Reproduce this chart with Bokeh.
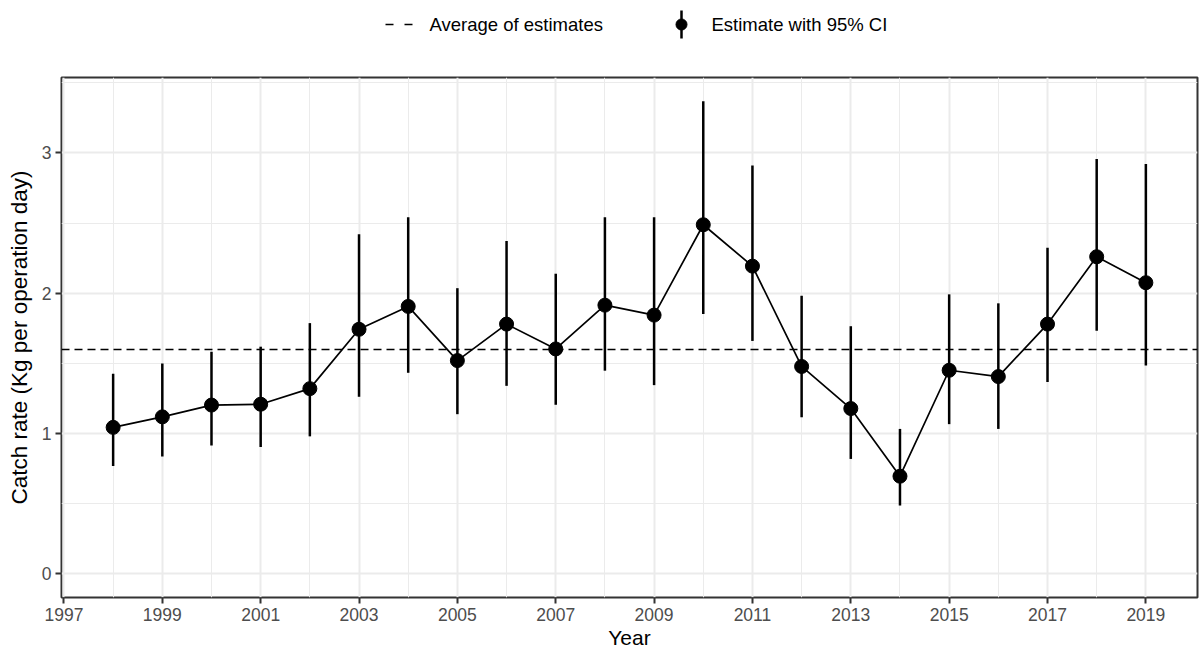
import numpy as np
from bokeh.plotting import figure
from bokeh.layouts import column
from bokeh.models import ColumnDataSource, Range1d, FixedTicker
from bokeh.core.properties import value
from bokeh.embed import file_html
from bokeh.resources import INLINE

# ---- data ----
years = list(range(1998, 2020))
estimate = [1.044, 1.119, 1.203, 1.209, 1.320, 1.743, 1.906, 1.520, 1.780, 1.603, 1.915,
            1.844, 2.488, 2.193, 1.478, 1.178, 0.696, 1.451, 1.406, 1.780, 2.260, 2.075]
lower = [0.769, 0.836, 0.914, 0.904, 0.980, 1.262, 1.433, 1.138, 1.340, 1.205, 1.448,
         1.345, 1.852, 1.660, 1.116, 0.819, 0.487, 1.067, 1.033, 1.367, 1.733, 1.485]
upper = [1.427, 1.500, 1.583, 1.619, 1.787, 2.421, 2.542, 2.036, 2.373, 2.139, 2.542,
         2.542, 3.369, 2.911, 1.982, 1.765, 1.033, 1.992, 1.928, 2.324, 2.956, 2.921]
x_ticks = [1997, 1999, 2001, 2003, 2005, 2007, 2009, 2011, 2013, 2015, 2017, 2019]
x_minor = [1998, 2000, 2002, 2004, 2006, 2008, 2010, 2012, 2014, 2016, 2018]
y_ticks = [0, 1, 2, 3]
y_minor = [0.5, 1.5, 2.5, 3.5]
legend_labels = ["Average of estimates", "Estimate with 95% CI"]
x_title = "Year"
y_title = "Catch rate (Kg per operation day)"

average = float(np.mean(estimate))

FONT = "Liberation Sans"
W = 1200
LEG_H = 72
MAIN_H = 651 - LEG_H
BL, BR = 61, 3   # left / right borders of the plotting frame (pixels)

# ---------------- legend strip (drawn in page-pixel units) ----------------
leg = figure(width=W, height=LEG_H, output_backend="svg", toolbar_location=None,
             x_range=Range1d(BL, W - BR), y_range=Range1d(0, LEG_H),
             min_border=0, min_border_left=BL, min_border_right=BR,
             min_border_top=0, min_border_bottom=0)
leg.axis.visible = False
leg.grid.visible = False
leg.outline_line_color = None
leg.background_fill_color = "white"
leg.border_fill_color = "white"

key_y = LEG_H - 24           # vertical centre of the legend row
key1 = dict(x0=385, x1=412)  # dashed key
key2_x = 681                 # point-range key
label_x = [429, 711]

leg.segment(x0=[key1["x0"]], y0=[key_y], x1=[key1["x1"]], y1=[key_y],
            line_color="black", line_width=1.7, line_dash="8 11")
leg.segment(x0=[key2_x], y0=[key_y - 14], x1=[key2_x], y1=[key_y + 14],
            line_color="black", line_width=2.5)
leg.scatter(x=[key2_x], y=[key_y], size=11, fill_color="black", line_color="black")
leg.text(x=label_x, y=[key_y, key_y], text=legend_labels,
         text_font=value(FONT), text_font_size="18.5px", text_color="black",
         text_baseline="middle", text_align="left")

# ---------------- main plot ----------------
src = ColumnDataSource(dict(year=years, est=estimate, lower=lower, upper=upper))

x_lo, x_hi = min(years), max(years)
xpad = 0.05 * (x_hi - x_lo)
y_lo, y_hi = 0.0, max(upper)
ypad = 0.05 * (y_hi - y_lo)

p = figure(width=W, height=MAIN_H, output_backend="svg", toolbar_location=None,
           x_range=Range1d(x_lo - xpad, x_hi + xpad),
           y_range=Range1d(y_lo - ypad, y_hi + ypad),
           min_border_left=BL, min_border_right=BR, min_border_top=5, min_border_bottom=54)

p.outline_line_color = "#333333"
p.outline_line_width = 2
p.background_fill_color = "white"
p.border_fill_color = "white"

p.xaxis.ticker = FixedTicker(ticks=x_ticks, minor_ticks=x_minor)
p.yaxis.ticker = FixedTicker(ticks=y_ticks, minor_ticks=y_minor)
for ax in (p.xaxis, p.yaxis):
    ax.axis_line_color = None
    ax.major_tick_line_color = "#333333"
    ax.major_tick_line_width = 2
    ax.major_tick_out = 6
    ax.major_tick_in = 0
    ax.minor_tick_line_color = None
    ax.major_label_text_font = FONT
    ax.major_label_text_font_size = "17.5px"
    ax.major_label_text_color = "#4D4D4D"
    ax.axis_label_text_font = FONT
    ax.axis_label_text_font_style = "normal"
    ax.axis_label_text_color = "black"
p.xaxis.axis_label_text_font_size = "21px"
p.yaxis.axis_label_text_font_size = "22.5px"
p.xaxis.axis_label = x_title
p.yaxis.axis_label = y_title
p.xaxis.major_label_standoff = 4
p.xaxis.axis_label_standoff = 2
p.yaxis.major_label_standoff = 4
p.yaxis.axis_label_standoff = 7

for g in (p.xgrid, p.ygrid):
    g.grid_line_color = "#EBEBEB"
    g.grid_line_width = 2
    g.minor_grid_line_color = "#EBEBEB"
    g.minor_grid_line_width = 1

p.hspan(y=[average], line_color="black", line_width=1.7, line_dash="8 5")
p.segment(x0="year", y0="lower", x1="year", y1="upper", source=src,
          line_color="black", line_width=2.5)
p.line("year", "est", source=src, line_color="black", line_width=1.7)
p.scatter("year", "est", source=src, size=14, fill_color="black", line_color="black")

layout = column(leg, p, spacing=0)
open("out.html", "w").write(file_html(layout, INLINE))
